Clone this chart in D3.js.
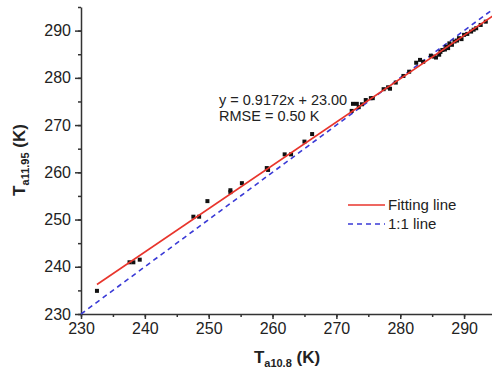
<!DOCTYPE html>
<html>
<head>
<meta charset="utf-8">
<script src="https://cdn.jsdelivr.net/npm/d3@7"></script>
<style>
  body { margin: 0; background: #fff; }
  svg { display: block; font-family: "Liberation Sans", Arial, sans-serif; }
  .axis path, .axis line { stroke: #333; }
  .axis text { fill: #222; font-size: 16px; font-family: "Liberation Sans", Arial, sans-serif; }
</style>
</head>
<body>
<svg id="chart" width="492" height="374"></svg>
<script>
// observed pairs (K)
const taX = [232.5, 237.6, 238.2, 239.2, 247.6, 248.5, 249.8, 253.4, 253.4, 255.2,
  259.1, 259.3, 261.9, 262.9, 265.0, 266.2, 272.4, 272.6, 273.2, 273.5, 274.0, 274.6,
  275.4, 275.7, 277.4, 278.1, 278.4, 279.3, 280.5, 281.4, 282.5, 283.1, 283.6, 284.8,
  285.3, 285.6, 286.1, 286.3, 286.6, 287.0, 287.2, 287.5, 287.7, 288.1, 288.5, 288.9,
  289.2, 289.6, 290.0, 290.5, 291.1, 291.5, 291.9, 292.6, 293.4];
const taY = [234.9, 240.95, 240.95, 241.5, 250.6, 250.6, 253.9, 256.2, 255.8, 257.7,
  260.9, 260.5, 263.8, 263.8, 266.5, 268.1, 273.0, 274.5, 274.5, 273.8, 274.4, 275.3,
  275.7, 275.7, 277.6, 278.0, 277.7, 279.0, 280.4, 281.3, 283.2, 283.8, 283.4, 284.7,
  284.5, 284.3, 284.9, 285.5, 285.9, 286.0, 286.6, 286.3, 287.3, 287.0, 287.7, 287.9,
  288.4, 288.2, 289.1, 289.3, 289.8, 290.2, 290.5, 291.2, 291.9];

const xTicks = [230, 240, 250, 260, 270, 280, 290];
const yTicks = [230, 240, 250, 260, 270, 280, 290];
const minorTicks = d3.range(230, 296, 5);

const fitSlope = 0.9172, fitIntercept = 23.00;
const fitRange = [232.5, 294.5];
const oneToOne = [230, 295];

const equationText = 'y = 0.9172x + 23.00';
const rmseText = 'RMSE = 0.50 K';
const legendItems = ['Fitting line', '1:1 line'];

const svg = d3.select('#chart');
const margin = { left: 81, top: 7, bottom: 60 };
const x = d3.scaleLinear().domain([230, 295]).range([margin.left, 496]);
const y = d3.scaleLinear().domain([230, 295]).range([314, margin.top]);

const red = '#e8352c', blue = '#3a3ad6';

// minor ticks
svg.append('g').attr('class', 'axis')
  .attr('transform', `translate(0,${y(230)})`)
  .call(d3.axisBottom(x).tickValues(minorTicks).tickSize(3).tickFormat(''))
  .call(g => g.select('.domain').remove());
svg.append('g').attr('class', 'axis')
  .attr('transform', `translate(${x(230)},0)`)
  .call(d3.axisLeft(y).tickValues(minorTicks).tickSize(3).tickFormat(''))
  .call(g => g.select('.domain').remove());

// main axes
const gx = svg.append('g').attr('class', 'axis')
  .attr('transform', `translate(0,${y(230)})`)
  .call(d3.axisBottom(x).tickValues(xTicks).tickSize(5).tickSizeOuter(0).tickPadding(4));
const gy = svg.append('g').attr('class', 'axis')
  .attr('transform', `translate(${x(230)},0)`)
  .call(d3.axisLeft(y).tickValues(yTicks).tickSize(6).tickSizeOuter(0).tickPadding(4));
svg.selectAll('.axis path, .axis line').attr('stroke-width', 1.5);

// 1:1 line
const line = d3.line().x(d => x(d[0])).y(d => y(d[1]));
svg.append('path')
  .attr('d', line(oneToOne.map(v => [v, v])))
  .attr('stroke', blue).attr('stroke-width', 1.6).attr('stroke-dasharray', '5,4')
  .attr('fill', 'none');

// points
svg.append('g').selectAll('rect')
  .data(taX.map((v, i) => [v, taY[i]]))
  .enter().append('rect')
  .attr('x', d => x(d[0]) - 2).attr('y', d => y(d[1]) - 2)
  .attr('width', 4).attr('height', 4)
  .attr('fill', '#111');

// fitting line
svg.append('path')
  .attr('d', line(fitRange.map(v => [v, fitSlope * v + fitIntercept])))
  .attr('stroke', red).attr('stroke-width', 1.6).attr('fill', 'none');

// annotation
svg.append('text').attr('x', 219).attr('y', 105)
  .attr('font-size', 14.5).attr('fill', '#222').text(equationText);
svg.append('text').attr('x', 219).attr('y', 121)
  .attr('font-size', 14.5).attr('fill', '#222').text(rmseText);

// legend
const legend = svg.append('g');
legend.append('line').attr('x1', 348).attr('x2', 385).attr('y1', 205).attr('y2', 205)
  .attr('stroke', red).attr('stroke-width', 1.6);
legend.append('line').attr('x1', 348).attr('x2', 385).attr('y1', 224).attr('y2', 224)
  .attr('stroke', blue).attr('stroke-width', 1.6).attr('stroke-dasharray', '5,4');
legend.selectAll('text').data(legendItems).enter().append('text')
  .attr('x', 388).attr('y', (d, i) => 210 + i * 19)
  .attr('font-size', 15).attr('fill', '#222').text(d => d);

// axis titles
const xt = svg.append('text').attr('x', 287).attr('y', 363)
  .attr('text-anchor', 'middle').attr('font-weight', 'bold').attr('font-size', 17).attr('fill', '#222');
xt.append('tspan').text('T');
xt.append('tspan').attr('font-size', 11).attr('dy', 4).text('a10.8');
xt.append('tspan').attr('dy', -4).text(' (K)');

const yt = svg.append('text').attr('transform', 'translate(25,160) rotate(-90)')
  .attr('text-anchor', 'middle').attr('font-weight', 'bold').attr('font-size', 17).attr('fill', '#222');
yt.append('tspan').text('T');
yt.append('tspan').attr('font-size', 11).attr('dy', 4).text('a11.95');
yt.append('tspan').attr('dy', -4).text(' (K)');
</script>
</body>
</html>
